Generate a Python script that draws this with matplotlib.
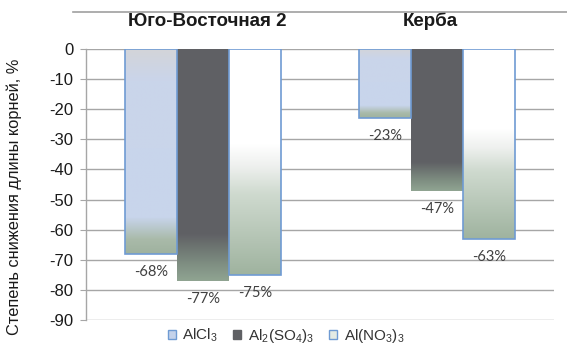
import matplotlib
matplotlib.use("Agg")
import matplotlib.pyplot as plt
import numpy as np
from matplotlib.colors import LinearSegmentedColormap
from matplotlib.patches import Patch
from matplotlib.lines import Line2D

plt.rcParams["font.family"] = ["Liberation Sans", "DejaVu Sans"]
plt.rcParams["mathtext.fontset"] = "custom"
plt.rcParams["mathtext.rm"] = "Liberation Sans"
plt.rcParams["mathtext.it"] = "Liberation Sans"

# Data
categories = ["Юго-Восточная 2", "Керба"]
series_names = ["AlCl$_3$", "Al$_2$(SO$_4$)$_3$", "Al(NO$_3$)$_3$"]
alcl3 = [-68, -23]
al2so4 = [-77, -47]
alno3 = [-75, -63]
yticks = list(range(0, -100, -10))

series_values = [alcl3, al2so4, alno3]

# Vertical gradients (0 = bar top, 1 = bar bottom)
gradients = [
    [(0.0, "#d3d4d9"), (0.15, "#cad5ea"), (0.82, "#c8d5ec"), (0.93, "#a9baa9"), (1.0, "#9fb29f")],
    [(0.0, "#5f6064"), (0.80, "#606165"), (0.93, "#7f8f82"), (1.0, "#90a492")],
    [(0.0, "#ffffff"), (0.42, "#ffffff"), (0.52, "#eef0ee"), (0.64, "#cfdacf"), (1.0, "#9fb39f")],
]
edge_colors = ["#6f9bd3", "none", "#6f9bd3"]
legend_faces = ["#c4d2ea", "#5f6064", "#e4ebe4"]

fig = plt.figure(figsize=(5.67, 3.57), dpi=100)
ax = fig.add_axes([86 / 567, 1 - 320 / 357, 468 / 567, 271 / 357])

n = len(series_values)
width = 1 / 4.5
x = np.arange(len(categories))

for i, (vals, grad, ec) in enumerate(zip(series_values, gradients, edge_colors)):
    cmap = LinearSegmentedColormap.from_list(f"g{i}", grad)
    offs = (i - (n - 1) / 2) * width
    bars = ax.bar(x + offs, vals, width, color="none", edgecolor="none", zorder=3)
    for b, v in zip(bars, vals):
        x0 = b.get_x()
        img = np.linspace(0, 1, 256).reshape(-1, 1)
        im = ax.imshow(img, cmap=cmap, extent=(x0, x0 + width, v, 0),
                       aspect="auto", origin="upper", zorder=3,
                       interpolation="bilinear")
        im.set_clip_path(b)
    ax.bar(x + offs, vals, width, facecolor="none", edgecolor=ec,
           linewidth=1.2, zorder=4)
    for xi, v in zip(x + offs, vals):
        ax.annotate(f"{v}%", xy=(xi, v), xytext=(0, -13), textcoords="offset points",
                    ha="center", va="center", fontsize=10.5, color="#404040",
                    family=["Lato", "DejaVu Sans"], zorder=5)

ax.set_xlim(-0.5, len(categories) - 0.5)
ax.set_ylim(-90, 0)
ax.set_yticks(yticks)
ax.set_yticklabels([str(t) for t in yticks], fontsize=12, color="#1a1a1a")
ax.yaxis.grid(True, color="#a6a6a6", linewidth=1.0, zorder=0)
ax.set_axisbelow(True)
ax.tick_params(axis="y", length=4, color="#a6a6a6", pad=5)
ax.set_xticks([])

# Category titles above the groups
title_shift = [3, -5]
for xi, name, dx in zip(x, categories, title_shift):
    ax.annotate(name, xy=(xi, 1), xycoords=ax.get_xaxis_transform(),
                xytext=(dx, 20), textcoords="offset points", ha="center", va="center",
                fontsize=13.5, fontweight="bold", color="#1a1a1a")

for side in ["top", "right", "bottom"]:
    ax.spines[side].set_visible(False)
ax.spines["left"].set_color("#a6a6a6")
ax.spines["left"].set_linewidth(1.0)

ax.set_ylabel("Степень снижения длины корней, %", fontsize=11.8, color="#1a1a1a")
ax.yaxis.set_label_coords(-64 / 468, 0.455)

# Top rule of the chart frame
fig.add_artist(Line2D([73 / 567, 1.0], [1 - 12 / 357, 1 - 12 / 357],
                      color="#a0a0a0", linewidth=1.2, transform=fig.transFigure))

handles = [Patch(facecolor=fc, edgecolor=ec if ec != "none" else fc, linewidth=1.0)
           for fc, ec in zip(legend_faces, edge_colors)]
leg = fig.legend(handles, series_names, loc="center", bbox_to_anchor=(286 / 567, 1 - 336 / 357),
                 ncol=3, frameon=False, fontsize=11, handlelength=0.55, handleheight=0.55,
                 handletextpad=0.4, columnspacing=1.0, labelcolor="#333333")

fig.savefig("out.png", dpi=100)
